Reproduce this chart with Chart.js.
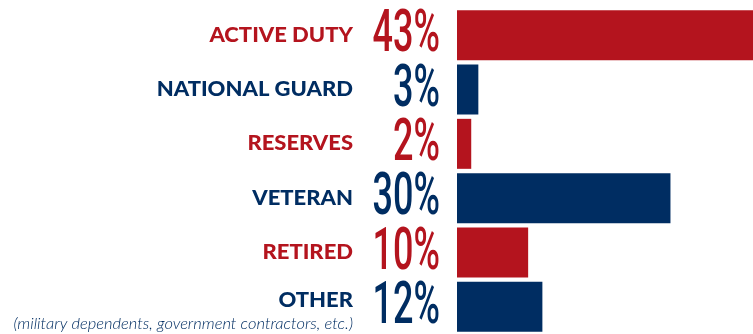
<!DOCTYPE html>
<html>
<head>
<meta charset="utf-8">
<script src="https://cdn.jsdelivr.net/npm/chart.js@4"></script>
<style>
html,body{margin:0;padding:0;background:#fff;}
#wrap{position:relative;width:753px;height:334px;}
</style>
</head>
<body>
<div id="wrap"><canvas id="c"></canvas></div>
<script>
const categories = ['ACTIVE DUTY', 'NATIONAL GUARD', 'RESERVES', 'VETERAN', 'RETIRED', 'OTHER'];
const subtitles = ['', '', '', '', '', '(military dependents, government contractors, etc.)'];
const values = [43, 3, 2, 30, 10, 12];
const valueLabels = ['43%', '3%', '2%', '30%', '10%', '12%'];

const RED = '#B4141E';
const NAVY = '#002D62';
const colors = categories.map((c, i) => i % 2 === 0 ? RED : NAVY);

const labelPlugin = {
  id: 'sideLabels',
  afterDraw(chart) {
    const ctx = chart.ctx;
    const y = chart.scales.y;
    ctx.save();
    categories.forEach((cat, i) => {
      const cy = y.getPixelForValue(i);
      ctx.fillStyle = colors[i];
      const hasSub = subtitles[i] !== '';
      ctx.save();
      ctx.translate(353, hasSub ? cy - 6 : cy);
      ctx.scale(1.1, 1);
      ctx.textAlign = 'right';
      ctx.textBaseline = 'middle';
      ctx.font = '900 20px Lato';
      ctx.fillText(cat, 0, 0);
      ctx.restore();
      if (hasSub) {
        ctx.textAlign = 'right';
        ctx.textBaseline = 'middle';
        ctx.font = 'italic 300 16.5px Lato';
        ctx.fillText(subtitles[i], 353, cy + 17);
      }
      ctx.save();
      ctx.translate(440, cy - 1);
      ctx.scale(0.6, 1);
      ctx.font = '500 60px Roboto';
      ctx.textAlign = 'right';
      ctx.textBaseline = 'middle';
      ctx.fillText(valueLabels[i], 0, 2);
      ctx.restore();
    });
    ctx.restore();
  }
};

new Chart(document.getElementById('c'), {
  type: 'bar',
  data: {
    labels: categories,
    datasets: [{
      data: values,
      backgroundColor: colors,
      borderWidth: 0,
      barPercentage: 0.92,
      categoryPercentage: 1
    }]
  },
  options: {
    indexAxis: 'y',
    responsive: true,
    maintainAspectRatio: false,
    animation: false,
    layout: { padding: { left: 457, top: 8, right: 0, bottom: 0 } },
    plugins: { legend: { display: false }, tooltip: { enabled: false } },
    scales: {
      x: { display: false, min: 0, max: 41.6, grid: { display: false } },
      y: { display: false, grid: { display: false } }
    }
  },
  plugins: [labelPlugin]
});
</script>
</body>
</html>
